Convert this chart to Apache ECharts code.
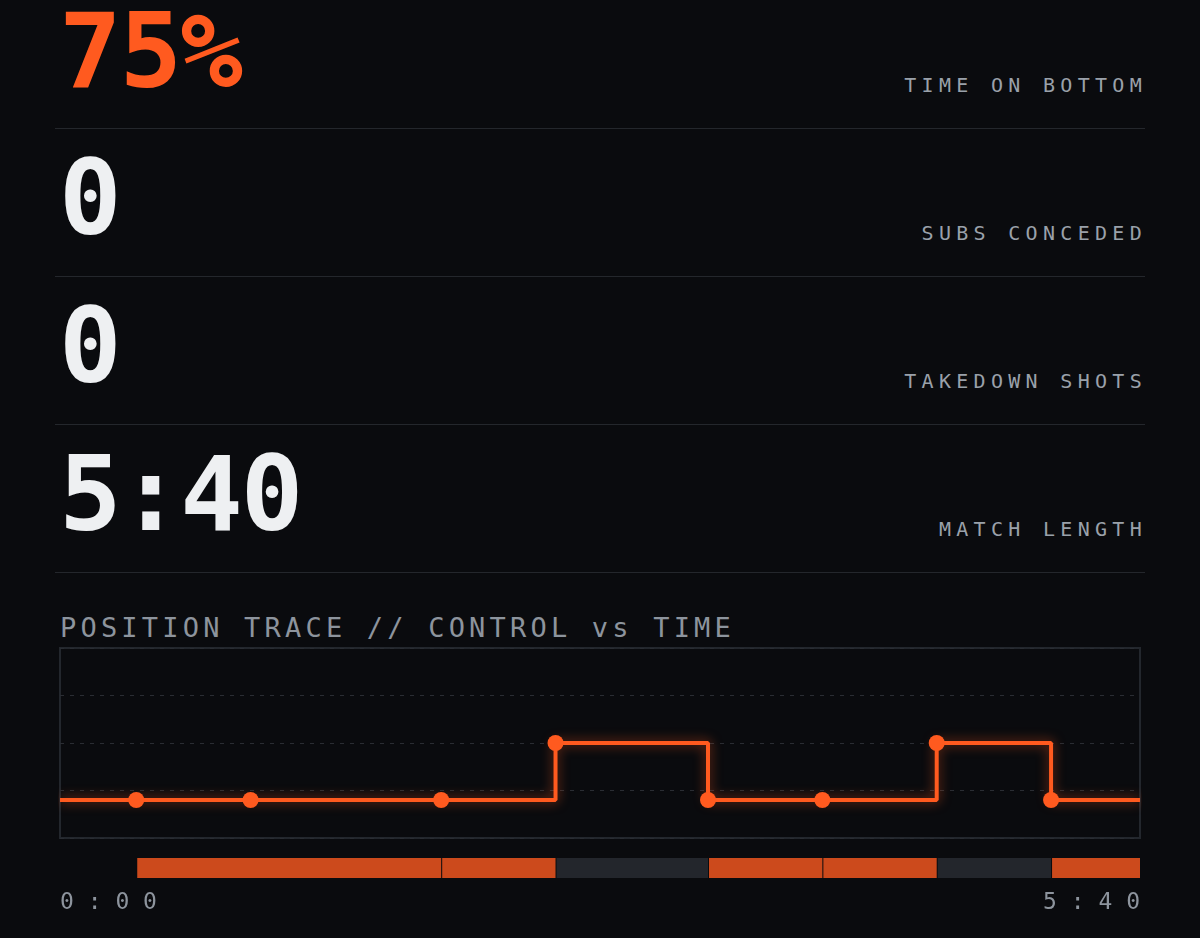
<!DOCTYPE html>
<html><head><meta charset="utf-8">
<script src="https://cdn.jsdelivr.net/npm/echarts@6/dist/echarts.min.js"></script>
<style>
html,body{margin:0;padding:0;background:#0a0b0e;width:1200px;height:938px;overflow:hidden;font-family:"DejaVu Sans Mono",monospace}
.row{position:absolute;left:55px;width:1090px;height:148px;border-bottom:1px solid #24272c}
.big{position:absolute;left:4px;top:10px;font-size:104px;color:#eef0f2;line-height:120px;letter-spacing:-2px;font-weight:bold}
.lab{position:absolute;right:3px;bottom:31px;font-size:20px;color:#9aa1aa;letter-spacing:5.3px;margin-right:-5px}
#head{position:absolute;left:60px;top:612px;font-size:27px;color:#8d949d;letter-spacing:4.2px}
#c{position:absolute;left:0;top:0;width:1200px;height:938px}
</style></head><body>
<div class="row" style="top:-20px"><div class="big" style="color:#ff5a1f;top:11px">75%</div><div class="lab">TIME ON BOTTOM</div></div>
<div class="row" style="top:128px"><div class="big">0</div><div class="lab">SUBS CONCEDED</div></div>
<div class="row" style="top:276px"><div class="big">0</div><div class="lab">TAKEDOWN SHOTS</div></div>
<div class="row" style="top:424px"><div class="big">5:40</div><div class="lab">MATCH LENGTH</div></div>
<div id="head">POSITION TRACE // CONTROL vs TIME</div>
<div id="c"></div>
<script>
const times = [24, 60, 120, 156, 204, 240, 276, 312];
const levels = [0.8, 0.8, 0.8, 2, 0.8, 0.8, 2, 0.8];
const matchEnd = 340;
const segStart = [24, 120, 156, 204, 240, 276, 312];
const segEnd   = [120, 156, 204, 240, 276, 312, 340];
const segKinds = ['bottom','bottom','top','bottom','bottom','top','bottom'];
const ORANGE = '#ff5a1f';

const lineData = [[0, levels[0]]];
times.forEach((t,i)=>lineData.push([t, levels[i]]));
lineData.push([matchEnd, levels[levels.length-1]]);
const segs = segStart.map((s,i)=>[s, segEnd[i]]);
const fmt = v => Math.floor(v/60)+':'+String(v%60).padStart(2,'0');

const chart = echarts.init(document.getElementById('c'));
chart.setOption({
  animation:false,
  grid:[
    {left:60,top:648,width:1080,height:190,show:true,borderColor:'#23272d',borderWidth:2,backgroundColor:'transparent'},
    {left:60,top:858,width:1080,height:20}
  ],
  xAxis:[
    {gridIndex:0,type:'value',min:0,max:matchEnd,show:false},
    {gridIndex:1,type:'value',min:0,max:matchEnd,interval:matchEnd,
     axisLine:{show:false},axisTick:{show:false},splitLine:{show:false},
     axisLabel:{formatter:v=>fmt(v).split('').join('\u200A'),color:'#8d949d',fontSize:23,fontFamily:'DejaVu Sans Mono',margin:14,alignMinLabel:'left',alignMaxLabel:'right'}}
  ],
  yAxis:[
    {gridIndex:0,type:'value',min:0,max:4,interval:1,axisLine:{show:false},axisTick:{show:false},axisLabel:{show:false},
     splitLine:{show:true,lineStyle:{color:'#2a2d33',type:[4,6]}}},
    {gridIndex:1,type:'value',min:0,max:1,show:false}
  ],
  series:[
    {type:'line',xAxisIndex:0,yAxisIndex:0,step:'end',data:lineData,
     symbol:'circle',symbolSize:(v,p)=>(p.dataIndex===0||p.dataIndex===lineData.length-1)?0:16,
     itemStyle:{color:ORANGE},
     lineStyle:{color:ORANGE,width:4,shadowColor:'rgba(255,90,31,0.6)',shadowBlur:12}},
    {type:'custom',xAxisIndex:1,yAxisIndex:1,data:segs,
     renderItem:(params,api)=>{
       const a=api.coord([api.value(0),1]), b=api.coord([api.value(1),0]);
       const kind=segKinds[params.dataIndex];
       return {type:'rect',shape:{x:a[0]+1,y:a[1],width:b[0]-a[0]-1,height:b[1]-a[1]},
         style:{fill:kind==='bottom'?'#cc4a1c':'#23262c'}};
     }}
  ]
});
</script>
</body></html>
